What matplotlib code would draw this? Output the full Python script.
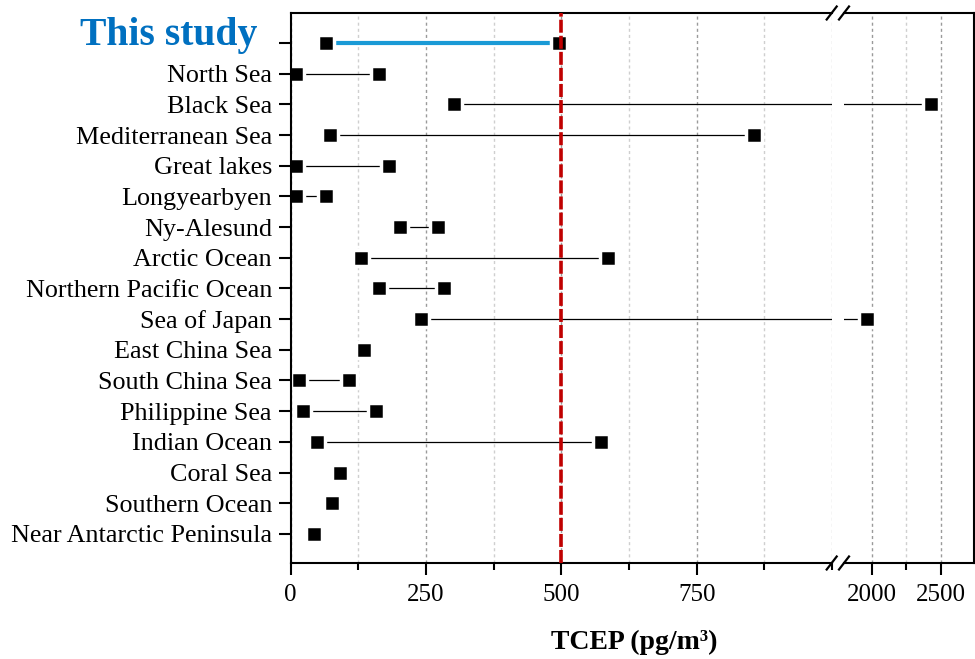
import matplotlib
matplotlib.use('Agg')
import matplotlib.pyplot as plt
from matplotlib.ticker import MultipleLocator, FixedLocator
from matplotlib.lines import Line2D

categories = ["This study", "North Sea", "Black Sea", "Mediterranean Sea", "Great lakes",
              "Longyearbyen", "Ny-Alesund", "Arctic Ocean", "Northern Pacific Ocean",
              "Sea of Japan", "East China Sea", "South China Sea", "Philippine Sea",
              "Indian Ocean", "Coral Sea", "Southern Ocean", "Near Antarctic Peninsula"]
low = [65, 9, 302, 72, 9, 9, 202, 129, 164, 240, 136, 16, 22, 48, 90.5, 77, 43.6]
high = [496, 163, 2426, 856, 182, 65, 272, 587, 283, 1968, None, 108, 158, 573, None, None, None]
threshold = 500
left_range = (0, 1000)
right_range = (1800, 2740)
left_ticks = [0, 250, 500, 750]
right_ticks = [2000, 2500]
right_minor = [2250]

plt.rcParams['font.family'] = ['Liberation Serif', 'DejaVu Serif']

W, H = 975, 659
fig = plt.figure(figsize=(W / 100, H / 100), dpi=100)

y_top, y_bot = 13, 563
x0, x_brk1, x_brk2, x_end = 290.7, 832, 844, 974
bottom = 1 - y_bot / H
height = (y_bot - y_top) / H
ax1 = fig.add_axes([x0 / W, bottom, (x_brk1 - x0) / W, height])
ax2 = fig.add_axes([x_brk2 / W, bottom, (x_end - x_brk2) / W, height])

n = len(categories)
blue = '#1A9AD6'
for ax in (ax1, ax2):
    for i in range(n):
        if high[i] is not None:
            if i == 0:
                ax.plot([low[i], high[i]], [i, i], color=blue, lw=3.0, zorder=2,
                        solid_capstyle='butt')
            else:
                ax.plot([low[i], high[i]], [i, i], color='black', lw=0.9, zorder=2,
                        solid_capstyle='butt')
        xs = [low[i]] if high[i] is None else [low[i], high[i]]
        ax.plot(xs, [i] * len(xs), linestyle='none', marker='s', markersize=11.2,
                markerfacecolor='black', markeredgecolor='white', markeredgewidth=2.5,
                zorder=3)
    ax.set_ylim(16.95, -0.98)
    for s in ax.spines.values():
        s.set_linewidth(1.5)
        s.set_zorder(4)
    ax.grid(axis='x', which='major', color='#9a9a9a', linestyle=(0, (2.2, 2.2)), lw=1.0, zorder=1)
    ax.grid(axis='x', which='minor', color='#cfcfcf', linestyle=(0, (2.2, 2.2)), lw=1.0, zorder=1)
    ax.set_axisbelow(True)
    ax.tick_params(axis='x', which='major', direction='out', length=8.5, width=1.5,
                   labelsize=18, pad=6.5, top=False)
    ax.tick_params(axis='x', which='minor', direction='out', length=5, width=1.5, top=False)

ax1.set_xlim(*left_range)
ax2.set_xlim(*right_range)
ax1.set_xticks(left_ticks)
ax1.xaxis.set_minor_locator(MultipleLocator(125))
ax2.set_xticks(right_ticks)
ax2.xaxis.set_minor_locator(FixedLocator(right_minor))

ax1.spines['right'].set_visible(False)
ax2.spines['left'].set_visible(False)

ax1.set_yticks(range(n))
ax1.set_yticklabels([''] + categories[1:])
ax1.tick_params(axis='y', direction='out', length=8.5, width=1.5, labelsize=18.8, pad=5,
                right=False)
ax1.yaxis.set_minor_locator(FixedLocator([]))
ax2.tick_params(axis='y', left=False, right=False, labelleft=False)

ax1.axvline(threshold, color='#C00000', lw=2.6, linestyle=(0, (3.6, 0.85)), zorder=5)

fig.text(257 / W, 1 - 45 / H, categories[0], ha='right', va='baseline', fontsize=28.5,
         fontweight='bold', color='#0070C0')
fig.text(634 / W, 1 - 642 / H, 'TCEP (pg/m³)', ha='center', va='center', fontsize=20,
         fontweight='bold')

# axis break marks
for yy in (y_top, y_bot):
    for cx in (831.7, 844.0):
        fig.add_artist(Line2D([(cx - 5) / W, (cx + 5) / W],
                              [1 - (yy + 6.5) / H, 1 - (yy - 6.5) / H],
                              color='black', lw=1.6, transform=fig.transFigure))

fig.savefig('out.png', dpi=100)
